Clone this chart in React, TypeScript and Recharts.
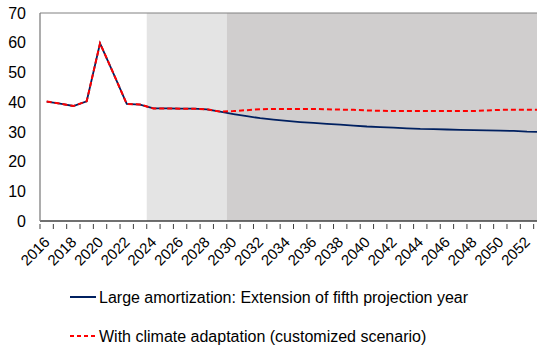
import { LineChart, Line, XAxis, YAxis, ReferenceArea, ReferenceLine } from "recharts";

const years = [
  2016, 2017, 2018, 2019, 2020, 2021, 2022, 2023, 2024, 2025, 2026, 2027, 2028,
  2029, 2030, 2031, 2032, 2033, 2034, 2035, 2036, 2037, 2038, 2039, 2040, 2041,
  2042, 2043, 2044, 2045, 2046, 2047, 2048, 2049, 2050, 2051, 2052, 2053,
];

const largeAmortization = [
  40.2, 39.5, 38.7, 40.3, 59.8, 49.7, 39.4, 39.2, 37.9, 37.9, 37.8, 37.8, 37.6,
  36.8, 36.0, 35.3, 34.6, 34.1, 33.7, 33.3, 33.0, 32.7, 32.4, 32.1, 31.8, 31.6,
  31.4, 31.2, 31.0, 30.9, 30.8, 30.7, 30.6, 30.5, 30.4, 30.3, 30.1, 30.0,
];

const climateAdaptation = [
  40.2, 39.5, 38.7, 40.3, 59.8, 49.7, 39.4, 39.2, 37.9, 37.9, 37.8, 37.8, 37.6,
  36.8, 37.0, 37.3, 37.6, 37.7, 37.7, 37.7, 37.7, 37.6, 37.5, 37.4, 37.2, 37.1,
  37.0, 37.0, 37.0, 37.0, 37.0, 37.0, 37.0, 37.2, 37.4, 37.4, 37.4, 37.4,
];

const yTicks = [0, 10, 20, 30, 40, 50, 60, 70];
const labelYears = years.filter((y) => y % 2 === 0 && y <= 2052);

// shaded periods (first year, last year)
const lightBand = [2024, 2029];
const darkBand = [2030, 2053];

const seriesNames = [
  "Large amortization: Extension of fifth projection year",
  "With climate adaptation (customized scenario)",
];

const data = years.map((year, i) => ({
  year,
  large: largeAmortization[i],
  climate: climateAdaptation[i],
}));

// tick marks sit between categories, labels under every other category
const xTicks: number[] = [];
years.forEach((y) => {
  xTicks.push(y - 0.5);
  if (labelYears.includes(y)) xTicks.push(y);
});

const FONT = "'Liberation Sans', Arial, sans-serif";

function XTick(props: any) {
  const { x, y, payload } = props;
  const v = payload.value;
  if (Number.isInteger(v)) {
    const ax = x + 4;
    const ay = y + 14;
    return (
      <text
        x={ax}
        y={ay}
        transform={`rotate(-45, ${ax}, ${ay})`}
        textAnchor="end"
        fontSize={15}
        fontFamily={FONT}
        fill="#000"
      >
        {v}
      </text>
    );
  }
  return <line x1={x} x2={x} y1={y} y2={y - 5} stroke="#404040" strokeWidth={1} />;
}

export default function App() {
  return (
    <div
      style={{
        position: "fixed",
        left: 0,
        top: 0,
        width: 537,
        height: 349,
        overflow: "hidden",
        background: "#fff",
        fontFamily: FONT,
      }}
    >
      <LineChart
        width={547}
        height={280}
        data={data}
        margin={{ top: 13, right: 0, bottom: 0, left: 0 }}
      >
        <ReferenceArea
          x1={lightBand[0] - 0.5}
          x2={lightBand[1] + 0.5}
          fill="#e4e4e4"
          fillOpacity={1}
          stroke="none"
        />
        <ReferenceArea
          x1={darkBand[0] - 0.5}
          x2={darkBand[1] + 0.5}
          fill="#d0cece"
          fillOpacity={1}
          stroke="none"
        />
        <ReferenceLine y={70} stroke="#808080" strokeWidth={1} />
        <XAxis
          dataKey="year"
          type="number"
          domain={[years[0] - 0.5, years[years.length - 1] + 0.5]}
          ticks={xTicks}
          interval={0}
          tickLine={false}
          tick={<XTick />}
          axisLine={{ stroke: "#404040", strokeWidth: 1.3 }}
          height={59}
          allowDataOverflow
        />
        <YAxis
          domain={[0, 70]}
          ticks={yTicks}
          interval={0}
          width={40}
          tickLine={false}
          tickSize={6}
          tickMargin={8}
          axisLine={{ stroke: "#808080", strokeWidth: 1.3 }}
          tick={{ fontSize: 16, fill: "#000", fontFamily: FONT }}
        />
        <Line
          type="linear"
          dataKey="large"
          stroke="#002060"
          strokeWidth={1.8}
          dot={false}
          isAnimationActive={false}
        />
        <Line
          type="linear"
          dataKey="climate"
          stroke="#ff0000"
          strokeWidth={2}
          strokeDasharray="5 3"
          dot={false}
          isAnimationActive={false}
        />
      </LineChart>
      <svg width={537} height={69} style={{ position: "absolute", left: 0, top: 280 }}>
        <line x1={70} x2={96} y1={17} y2={17} stroke="#002060" strokeWidth={2} />
        <text x={99} y={22.5} fontSize={16} fontFamily={FONT} fill="#000">
          {seriesNames[0]}
        </text>
        <line
          x1={70}
          x2={96}
          y1={56}
          y2={56}
          stroke="#ff0000"
          strokeWidth={2}
          strokeDasharray="4 3"
        />
        <text x={99} y={61.5} fontSize={16} fontFamily={FONT} fill="#000">
          {seriesNames[1]}
        </text>
      </svg>
    </div>
  );
}
